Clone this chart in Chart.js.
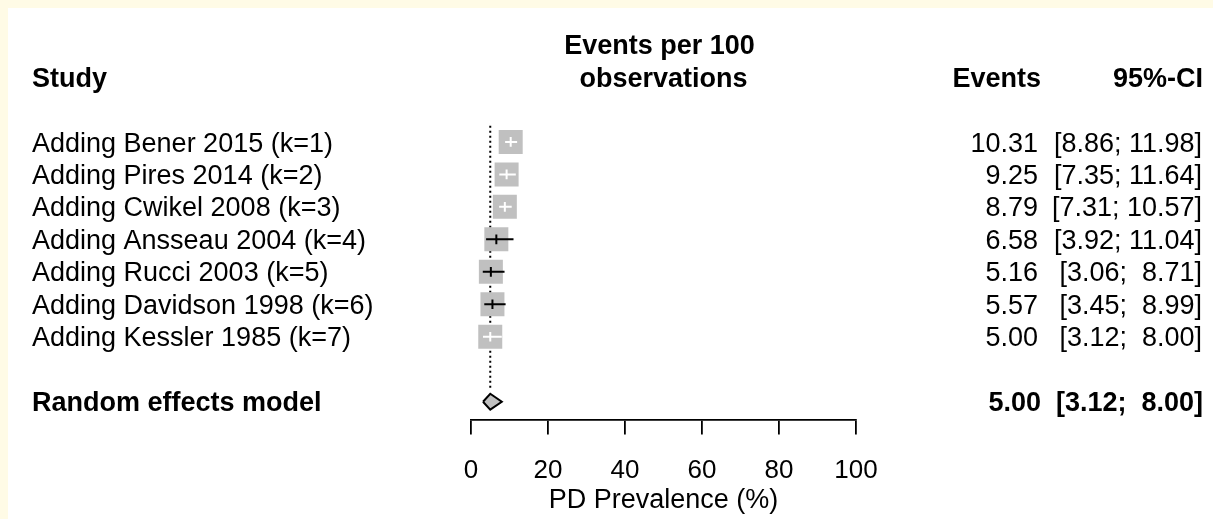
<!DOCTYPE html>
<html><head><meta charset="utf-8">
<script src="https://cdn.jsdelivr.net/npm/chart.js@4.4.0/dist/chart.umd.min.js"></script>
<style>
html,body{margin:0;padding:0;background:#FFFBE6;width:1213px;height:519px;overflow:hidden;}
#wrap{position:absolute;left:8px;top:8px;width:1205px;height:511px;background:#ffffff;}
canvas{display:block;}
</style></head><body>
<div id="wrap"><canvas id="c" width="1205" height="511"></canvas></div>
<script>
// ---- data ----
const studies = [
  "Adding Bener 2015 (k=1)",
  "Adding Pires 2014 (k=2)",
  "Adding Cwikel 2008 (k=3)",
  "Adding Ansseau 2004 (k=4)",
  "Adding Rucci 2003 (k=5)",
  "Adding Davidson 1998 (k=6)",
  "Adding Kessler 1985 (k=7)"
];
const events = [10.31, 9.25, 8.79, 6.58, 5.16, 5.57, 5.00];
const lower  = [8.86, 7.35, 7.31, 3.92, 3.06, 3.45, 3.12];
const upper  = [11.98, 11.64, 10.57, 11.04, 8.71, 8.99, 8.00];
const pooledLabel = "Random effects model";
const pooledEst = [5.00];
const pooledLower = [3.12];
const pooledUpper = [8.00];
const xTickValues = [0, 20, 40, 60, 80, 100];
const xTitle = "PD Prevalence (%)";
const headStudy = "Study";
const headForest = ["Events per 100", "observations"];
const headEvents = "Events";
const headCI = "95%-CI";

// ---- styles ----
const FONT = '"Liberation Sans", Arial, Helvetica, sans-serif';
const FS = 27;
const FSB = 27;
const TICK_FS = 26;
const BOX = 24;          // px side of the study squares
const DIAMOND_H = 0.245; // half height of the diamond, in rows
const SUMMARY_ROW = studies.length + 1;

function fmt(v){ return v.toFixed(2); }
function padL(s, n){ while (s.length < n) s = ' ' + s; return s; }
const allLo = lower.concat(pooledLower), allHi = upper.concat(pooledUpper);
const loW = Math.max(...allLo.map(v => fmt(v).length));
const hiW = Math.max(...allHi.map(v => fmt(v).length));
function ciText(lo, hi){ return '[' + padL(fmt(lo), loW) + '; ' + padL(fmt(hi), hiW) + ']'; }

function inside(chart, i){
  const xs = chart.scales.x;
  if (!xs) return false;
  const c = xs.getPixelForValue(events[i]);
  return xs.getPixelForValue(lower[i]) >= c - BOX/2 && xs.getPixelForValue(upper[i]) <= c + BOX/2;
}

const datasets = [];
datasets.push({
  label: 'ref', showLine: true,
  data: [{x: pooledEst[0], y: -0.5}, {x: pooledEst[0], y: SUMMARY_ROW - 0.4}],
  borderColor: '#000', borderWidth: 2, borderDash: [2, 3], pointRadius: 0, order: 6
});
datasets.push({
  label: 'boxes',
  data: events.map((v, i) => ({x: v, y: i})),
  pointStyle: 'rect', pointRadius: (BOX / 2) / Math.SQRT1_2,
  pointBackgroundColor: '#C0C0C0', pointBorderWidth: 0, pointBorderColor: 'rgba(0,0,0,0)', order: 5
});
events.forEach((v, i) => {
  datasets.push({
    label: 'ci' + i, showLine: true,
    data: [{x: lower[i], y: i}, {x: upper[i], y: i}],
    borderColor: ctx => inside(ctx.chart, i) ? '#ffffff' : '#000000',
    borderWidth: 2, pointRadius: 0, order: 3
  });
});
datasets.push({
  label: 'marks',
  data: events.map((v, i) => ({x: v, y: i})),
  pointStyle: 'line', pointRotation: 90, pointRadius: 4.8,
  pointBorderColor: ctx => inside(ctx.chart, ctx.dataIndex) ? '#ffffff' : '#000000',
  pointBorderWidth: 2, order: 2
});
datasets.push({
  label: 'diamond', showLine: true,
  data: [
    {x: pooledLower[0], y: SUMMARY_ROW},
    {x: pooledEst[0], y: SUMMARY_ROW - DIAMOND_H},
    {x: pooledUpper[0], y: SUMMARY_ROW},
    {x: pooledEst[0], y: SUMMARY_ROW + DIAMOND_H},
    {x: pooledLower[0], y: SUMMARY_ROW}
  ],
  fill: 'shape', backgroundColor: '#C0C0C0', borderColor: '#000', borderWidth: 2,
  pointRadius: 0, tension: 0, order: 4
});

const textPlugin = {
  id: 'forestText',
  afterDraw(chart){
    const ctx = chart.ctx, ys = chart.scales.y, area = chart.chartArea;
    const reg = FS + 'px ' + FONT, bold = 'bold ' + FSB + 'px ' + FONT;
    const base = r => ys.getPixelForValue(r) + 0.355 * FS;
    const xLabel = 24, xEvents = 1030, xCI = 1194;
    const xMid = (area.left + area.right) / 2;
    ctx.save();
    ctx.fillStyle = '#000';
    ctx.textBaseline = 'alphabetic';
    ctx.font = bold;
    ctx.textAlign = 'left';
    ctx.fillText(headStudy, xLabel, base(-2));
    ctx.textAlign = 'center';
    ctx.fillText(headForest[0], xMid - 4, base(-3));
    ctx.fillText(headForest[1], xMid, base(-2));
    ctx.textAlign = 'right';
    ctx.fillText(headEvents, xEvents + 3, base(-2));
    ctx.fillText(headCI, xCI + 1, base(-2));
    ctx.font = reg;
    studies.forEach((s, i) => {
      ctx.textAlign = 'left';
      ctx.fillText(s, xLabel, base(i));
      ctx.textAlign = 'right';
      ctx.fillText(fmt(events[i]), xEvents, base(i));
      ctx.fillText(ciText(lower[i], upper[i]), xCI, base(i));
    });
    ctx.font = bold;
    ctx.textAlign = 'left';
    ctx.fillText(pooledLabel, xLabel, base(SUMMARY_ROW));
    ctx.textAlign = 'right';
    ctx.fillText(fmt(pooledEst[0]), xEvents + 3, base(SUMMARY_ROW));
    ctx.fillText(ciText(pooledLower[0], pooledUpper[0]), xCI + 1, base(SUMMARY_ROW));
    ctx.restore();
  }
};

new Chart(document.getElementById('c'), {
  type: 'scatter',
  data: { datasets },
  plugins: [textPlugin],
  options: {
    responsive: false, animation: false, devicePixelRatio: 1, events: [],
    layout: { padding: { left: 463, right: 357, top: 20.25, bottom: 0 } },
    plugins: { legend: { display: false }, tooltip: { enabled: false } },
    scales: {
      y: { type: 'linear', min: -3.5, max: 8.55, reverse: true, display: false },
      x: {
        type: 'linear', min: 0, max: 100, position: 'bottom',
        afterBuildTicks: s => { s.ticks = xTickValues.map(v => ({value: v})); },
        afterFit: s => { s.height = 99.4; },
        ticks: { font: { family: FONT, size: TICK_FS }, color: '#000', padding: 21, maxRotation: 0, autoSkip: false },
        grid: { drawOnChartArea: false, drawTicks: true, tickLength: 15, color: '#000', lineWidth: 1.8 },
        border: { display: true, color: '#000', width: 1.8 },
        title: { display: true, text: xTitle, color: '#000', font: { family: FONT, size: FS }, padding: { top: 0, bottom: 2 } }
      }
    }
  }
});
</script>
</body></html>
